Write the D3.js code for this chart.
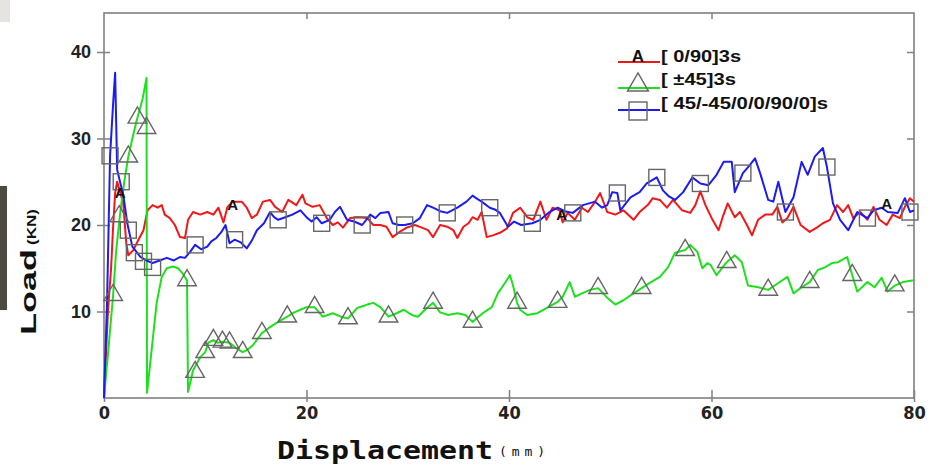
<!DOCTYPE html>
<html>
<head>
<meta charset="utf-8">
<script src="https://cdn.jsdelivr.net/npm/d3@7"></script>
<style>
  body { margin: 0; background: #fff; }
  svg { display: block; }
</style>
</head>
<body>
<script>
// data: [displacement mm, load kN]

var seriesNames = ["[ 0/90]3s", "[ ±45]3s", "[ 45/-45/0/0/90/0]s"];
var xTicks = [0, 20, 40, 60, 80];
var yTicks = [10, 20, 30, 40];

var red = [
  [0,0],[0.4,10.2],[0.7,15],[0.9,19.8],[1.1,23.7],[1.3,25],[1.6,23.8],[1.9,22.5],[2.2,17.9],[2.4,16.5],
  [2.9,17.1],[3.4,18.3],[3.9,19.4],[4.3,21.7],[4.8,22.3],[5.3,22],[5.7,22.3],[6.0,21.2],[6.5,20.8],[7.0,20.0],
  [7.5,18.6],[8.0,18.5],[8.3,20.6],[8.8,21.5],[9.5,21.2],[10.2,21.5],[10.8,21.2],[11.3,22.0],[11.8,20.3],[12.2,22.1],
  [12.7,22.7],[13.6,22.7],[14.1,22.0],[14.6,20.8],[15.1,21.2],[15.7,22.7],[16.4,22.9],[16.9,22.1],[17.6,21.5],[18.2,22.9],
  [19.0,22.3],[19.6,23.5],[19.9,22.5],[20.6,22.1],[21.3,22.3],[22.0,20.8],[22.6,20.0],[23.1,20.3],[23.6,19.7],[24.3,20.8],
  [25.1,20.9],[26.0,20.8],[26.6,20.0],[27.3,20.0],[27.9,19.8],[28.5,18.6],[29.2,19.2],[29.9,19.7],[30.7,20.0],[31.4,19.7],
  [32.0,19.4],[32.5,18.6],[33.2,20.0],[33.9,19.8],[34.5,19.4],[34.9,18.5],[35.5,19.8],[36.0,20.2],[36.4,20.9],[36.9,20.6],
  [37.3,21.5],[37.8,18.6],[38.4,18.8],[39.1,19.1],[39.8,19.6],[40.4,21.4],[41.1,22.0],[41.8,20.9],[42.4,20.6],[43.1,22.7],
  [43.7,20.6],[44.3,22.0],[45.0,21.7],[45.3,20.3],[45.8,21.4],[46.5,20.6],[47.2,22.0],[47.8,21.5],[48.5,22.7],[49.0,23.7],
  [49.7,21.5],[50.5,21.2],[51.3,21.7],[52.3,20.6],[52.9,21.5],[53.7,22.3],[54.2,23.1],[54.9,22.9],[55.6,22.0],[56.2,22.9],
  [57.1,21.7],[57.9,21.4],[58.4,22.3],[58.9,23.9],[59.4,22.3],[60.1,20.6],[60.7,19.4],[61.1,20.9],[61.6,22.5],[62.3,20.9],
  [62.8,21.5],[63.5,20.0],[64.0,18.8],[64.6,20.6],[65.3,21.2],[66.0,21.2],[66.5,22.1],[67.0,20.3],[67.5,20.8],[68.1,22.1],
  [68.8,20.0],[69.7,19.2],[70.4,19.7],[71.0,20.2],[71.7,20.6],[72.4,22.3],[73.0,21.5],[73.5,22.3],[74.0,20.8],[74.7,21.5],
  [75.4,20.6],[76.0,22.1],[76.6,20.6],[77.3,20.0],[77.9,21.2],[78.6,20.8],[79.1,22.1],[79.6,23.1],[80,22.7]
];

var green = [
  [0,0],[0.5,6.5],[0.9,11.9],[1.2,17],[1.6,21.4],[2.0,25],[2.4,27.9],[2.9,30.5],[3.3,32.4],[3.8,34.5],
  [4.2,37],[4.25,0.6],[4.7,5.5],[5.2,11],[5.7,14],[6.2,15],[6.8,15.2],[7.3,15],[7.7,14.5],[8.2,13.6],
  [8.3,0.7],[8.8,3.2],[9.5,4.7],[10.0,5.3],[10.3,6.4],[10.8,6.7],[11.2,6.4],[11.7,6.5],[12.4,6.4],[13.0,5.8],
  [13.7,5.3],[14.2,5.6],[14.7,6.1],[15.6,7.5],[16.4,8.2],[17.2,8.8],[18.1,9.4],[18.8,9.9],[19.4,10.2],[20.0,10.5],
  [20.8,10.5],[21.6,9.4],[22.6,9.8],[23.4,9.4],[24.1,9.2],[25.0,10.4],[26.0,10.8],[26.6,11.0],[27.3,10.5],[28.1,9.4],
  [28.9,9.8],[29.6,10.2],[30.4,9.6],[31.0,9.4],[31.7,10.2],[32.5,11.0],[33.2,9.9],[34.0,9.6],[34.9,9.8],[35.7,9.6],
  [36.4,8.8],[37.4,9.8],[38.3,10.5],[38.9,12.1],[39.6,13.3],[40.1,14.2],[40.4,13.0],[40.8,11.0],[41.1,10.2],[41.8,9.6],
  [42.8,9.8],[43.7,10.4],[44.8,11.1],[45.3,11.7],[46.0,13.4],[46.5,11.7],[47.2,12.1],[48.0,12.5],[48.8,12.7],[49.7,11.6],
  [50.5,10.8],[51.3,11.3],[52.3,12.1],[53.1,12.7],[53.9,13.3],[54.9,14.0],[55.7,15.1],[56.4,16.8],[57.4,17.1],[57.9,17.7],
  [58.6,16.9],[59.1,15.0],[59.6,15.6],[59.9,15.4],[60.5,14.2],[61.5,15.7],[62.3,16.5],[63.0,15.7],[63.6,13.0],[64.6,12.8],
  [65.6,12.5],[66.6,13.3],[67.5,14.0],[68.1,12.1],[68.9,12.8],[69.7,13.4],[70.5,14.8],[71.2,15.1],[71.9,15.6],[72.5,15.7],
  [73.4,16.3],[73.9,14.2],[74.4,12.3],[75.4,13.4],[76.1,12.8],[76.8,13.9],[77.4,12.3],[78.1,13.0],[78.9,13.4],[80,13.6]
];

var blue = [
  [0,0],[0.3,11],[0.6,28],[0.9,34],[1.1,37.6],[1.3,26.4],[1.6,24.9],[1.9,23.5],[2.3,20.2],[2.8,17.5],
  [3.6,16.3],[4.2,15.9],[4.8,15.6],[5.5,15.9],[6.2,16.2],[6.9,15.9],[7.5,16.3],[8.0,16.2],[8.5,16.9],[9.0,17.7],
  [9.6,17.2],[10.2,17.5],[10.6,18.1],[11.1,18.5],[11.6,19.2],[12.0,20.0],[12.4,17.9],[12.9,18.3],[13.5,18.0],[14.1,17.3],
  [14.6,18.2],[15.1,19.4],[15.8,20.2],[16.4,21.5],[16.8,20.9],[17.2,20.6],[17.9,20.9],[18.6,21.2],[19.4,21.7],[20.0,20.9],
  [20.5,20.4],[21.0,20.9],[21.5,20.2],[22.3,20.6],[22.8,21.5],[23.3,22.1],[24.0,20.6],[24.7,20.4],[25.5,20.0],[26.3,21.2],
  [26.8,20.8],[27.3,21.4],[28.1,21.5],[28.5,20.2],[29.1,20.0],[29.7,20.0],[30.5,20.2],[31.2,20.8],[31.9,22.3],[32.5,22.0],
  [33.2,21.6],[33.9,21.4],[34.9,22.0],[35.8,22.7],[36.4,23.4],[36.9,23.0],[37.3,22.7],[38.1,22.0],[38.6,21.8],[39.1,21.4],
  [39.9,19.8],[40.5,20.4],[41.2,20.0],[42.3,20.2],[43.1,20.6],[44.0,21.5],[44.8,22.0],[45.5,21.6],[46.3,21.4],[47.3,22.3],
  [48.5,22.7],[49.2,22.0],[49.7,22.3],[50.2,23.8],[50.7,23.7],[51.0,21.7],[52.0,23.2],[52.9,23.8],[53.6,24.8],[54.6,25.5],
  [55.2,24.0],[55.8,23.3],[56.4,22.9],[57.2,23.8],[58.1,25.5],[58.9,24.8],[59.7,24.6],[60.5,25.8],[61.2,27.3],[62.0,27.3],
  [62.3,23.8],[63.1,26.0],[63.7,26.8],[64.3,27.7],[64.8,26.0],[65.6,22.9],[66.1,22.7],[66.6,25.0],[67.3,21.5],[68.1,23.2],
  [68.9,27.3],[69.5,25.8],[70.2,27.9],[71.0,28.9],[71.4,26.7],[72.0,22.5],[72.7,20.6],[73.5,19.4],[74.4,21.5],[75.4,20.8],
  [76.0,21.7],[76.8,22.0],[77.4,21.5],[78.4,21.4],[79.1,23.1],[79.6,21.5],[80,21.7]
];

// marker positions along each curve
var redMarks = [[1.6,23.8],[12.7,22.4],[45.2,21.3],[77.3,22.6]];
var greenMarks = [
  [0.9,11.9],[1.5,21],[2.4,27.9],[3.3,32.4],[4.2,31.2],[8.2,13.6],[9.0,3.0],[10.0,5.3],[10.8,6.7],[11.7,6.5],
  [12.4,6.4],[13.7,5.3],[15.6,7.5],[18.1,9.4],[20.8,10.5],[24.1,9.2],[28.1,9.4],[32.5,11.0],[36.4,8.8],[40.8,11.0],
  [44.8,11.1],[48.8,12.7],[53.1,12.7],[57.4,17.1],[61.5,15.7],[65.6,12.5],[69.7,13.4],[73.9,14.2],[78.1,13.0]
];
var blueMarks = [
  [0.6,28],[1.7,25.0],[2.4,19.4],[3.0,16.8],[3.9,15.8],[4.8,15.1],[9.0,17.7],[12.9,18.3],[17.2,20.6],[21.5,20.2],
  [25.5,20.0],[29.7,20.0],[33.9,21.4],[38.1,22.0],[42.3,20.2],[46.3,21.4],[50.7,23.7],[54.6,25.5],[58.9,24.8],[63.1,26.0],
  [67.3,21.5],[71.4,26.7],[75.4,20.8],[79.6,21.5]
];

var W = 934, H = 465;
var plotL = 104, plotR = 914, plotT = 13, plotB = 398;

var svg = d3.select("body").append("svg")
  .attr("width", W)
  .attr("height", H);

// scan artefacts at the left edge of the original
svg.append("rect").attr("x", 0).attr("y", 0).attr("width", 10).attr("height", 22).attr("fill", "#e6e4e1");
svg.append("rect").attr("x", 0).attr("y", 186).attr("width", 7).attr("height", 124).attr("fill", "#4e4a42");

var x = d3.scaleLinear().domain([0, 80]).range([plotL, plotR]);
var y = d3.scaleLinear().domain([0, 40]).range([plotB, 52]);

var frameCol = "#808080";

// frame
svg.append("rect")
  .attr("x", plotL).attr("y", plotT)
  .attr("width", plotR - plotL).attr("height", plotB - plotT)
  .attr("fill", "none")
  .attr("stroke", frameCol)
  .attr("stroke-width", 1.6);

// left axis, ticks crossing the frame
var yAxis = svg.append("g")
  .attr("transform", "translate(" + plotL + ",0)")
  .call(d3.axisLeft(y).tickValues(yTicks).tickSize(7).tickPadding(6));
yAxis.select(".domain").remove();
yAxis.selectAll(".tick line").attr("x1", 6).attr("stroke", frameCol).attr("stroke-width", 1.5);
yAxis.selectAll(".tick text")
  .attr("font-family", "Liberation Sans, Arial, sans-serif")
  .attr("font-weight", "bold")
  .attr("font-size", 18)
  .attr("fill", "#222");

// right side, inward ticks
var yRight = svg.append("g")
  .attr("transform", "translate(" + plotR + ",0)")
  .call(d3.axisLeft(y).tickValues(yTicks).tickSize(7).tickFormat(""));
yRight.select(".domain").remove();
yRight.selectAll(".tick line").attr("stroke", frameCol).attr("stroke-width", 1.5);

// bottom axis
var xAxis = svg.append("g")
  .attr("transform", "translate(0," + plotB + ")")
  .call(d3.axisBottom(x).tickValues(xTicks).tickSize(4));
xAxis.select(".domain").remove();
xAxis.selectAll(".tick line").attr("y1", -8).attr("stroke", frameCol).attr("stroke-width", 1.5);
xAxis.selectAll(".tick text")
  .attr("y", 8)
  .attr("font-family", "Liberation Sans Narrow, DejaVu Sans Condensed, sans-serif")
  .attr("font-weight", "bold")
  .attr("font-size", 18)
  .attr("fill", "#222");

// top, inward ticks
var xTop = svg.append("g")
  .attr("transform", "translate(0," + plotT + ")")
  .call(d3.axisBottom(x).tickValues([20, 40, 60]).tickSize(6).tickFormat(""));
xTop.select(".domain").remove();
xTop.selectAll(".tick line").attr("stroke", frameCol).attr("stroke-width", 1.5);

// axis titles
var yTitle = svg.append("text")
  .attr("transform", "translate(36,335) rotate(-90)")
  .attr("font-family", "Liberation Sans, Arial, sans-serif")
  .attr("font-weight", "bold")
  .attr("fill", "#111");
yTitle.append("tspan").attr("x", 0).attr("font-size", 22)
  .attr("textLength", 86).attr("lengthAdjust", "spacingAndGlyphs").text("Load");
yTitle.append("tspan").attr("x", 90).attr("font-size", 12)
  .attr("textLength", 36).attr("lengthAdjust", "spacingAndGlyphs").text("(KN)");

svg.append("text")
  .attr("x", 277).attr("y", 459)
  .attr("font-family", "DejaVu Sans Mono, monospace")
  .attr("font-weight", "bold")
  .attr("font-size", 25)
  .attr("textLength", 216).attr("lengthAdjust", "spacingAndGlyphs")
  .attr("fill", "#111")
  .text("Displacement");
svg.append("text")
  .attr("x", 499).attr("y", 456)
  .attr("font-family", "DejaVu Sans Mono, monospace")
  .attr("font-size", 13)
  .attr("textLength", 46).attr("lengthAdjust", "spacing")
  .attr("fill", "#111")
  .text("(mm)");

// curves
var line = d3.line().x(d => x(d[0])).y(d => y(d[1]));
var plot = svg.append("g");

var curves = [
  { pts: red, col: "#f01818" },
  { pts: green, col: "#1fe01f" },
  { pts: blue, col: "#1c1cf2" }
];
curves.forEach(function (c) {
  plot.append("path")
    .datum(c.pts)
    .attr("d", line)
    .attr("fill", "none")
    .attr("stroke", c.col)
    .attr("stroke-width", 2)
    .attr("stroke-linejoin", "round");
});

var markCol = "#666";
var tri = d3.symbol().type(d3.symbolTriangle).size(150);

plot.selectAll(".tri")
  .data(greenMarks)
  .enter().append("path")
  .attr("class", "tri")
  .attr("d", tri)
  .attr("transform", d => "translate(" + x(d[0]) + "," + y(d[1]) + ")")
  .attr("fill", "none")
  .attr("stroke", markCol)
  .attr("stroke-width", 1.4);

plot.selectAll(".sq")
  .data(blueMarks)
  .enter().append("rect")
  .attr("class", "sq")
  .attr("x", d => x(d[0]) - 8)
  .attr("y", d => y(d[1]) - 8)
  .attr("width", 16).attr("height", 16)
  .attr("fill", "none")
  .attr("stroke", markCol)
  .attr("stroke-width", 1.4);

plot.selectAll(".amark")
  .data(redMarks)
  .enter().append("text")
  .attr("class", "amark")
  .attr("x", d => x(d[0]))
  .attr("y", d => y(d[1]) + 6)
  .attr("text-anchor", "middle")
  .attr("font-family", "Liberation Sans, Arial, sans-serif")
  .attr("font-weight", "bold")
  .attr("font-size", 15)
  .attr("fill", "#111")
  .text("A");

// legend
var legend = svg.append("g");
var legRows = [
  { y: 62, ty: 62, col: "#f01818", len: 80 },
  { y: 88, ty: 85, col: "#1fe01f", len: 75 },
  { y: 110, ty: 109, col: "#1c1cf2", len: 167 }
];
legRows.forEach(function (r, i) {
  legend.append("line")
    .attr("x1", 618).attr("x2", 660)
    .attr("y1", r.y).attr("y2", r.y)
    .attr("stroke", r.col).attr("stroke-width", 2);
  legend.append("text")
    .attr("x", 661).attr("y", r.ty)
    .attr("font-family", "Liberation Sans, Arial, sans-serif")
    .attr("font-weight", "bold")
    .attr("font-size", 17)
    .attr("textLength", r.len).attr("lengthAdjust", "spacingAndGlyphs")
    .attr("fill", "#111")
    .text(seriesNames[i]);
});
legend.append("text")
  .attr("x", 638).attr("y", 62)
  .attr("text-anchor", "middle")
  .attr("font-family", "Liberation Sans, Arial, sans-serif")
  .attr("font-weight", "bold")
  .attr("font-size", 17)
  .attr("fill", "#111")
  .text("A");
legend.append("path")
  .attr("d", d3.symbol().type(d3.symbolTriangle).size(190))
  .attr("transform", "translate(638,85)")
  .attr("fill", "none").attr("stroke", markCol).attr("stroke-width", 1.4);
legend.append("rect")
  .attr("x", 629).attr("y", 102).attr("width", 18).attr("height", 18)
  .attr("fill", "none").attr("stroke", markCol).attr("stroke-width", 1.4);
</script>
</body>
</html>
